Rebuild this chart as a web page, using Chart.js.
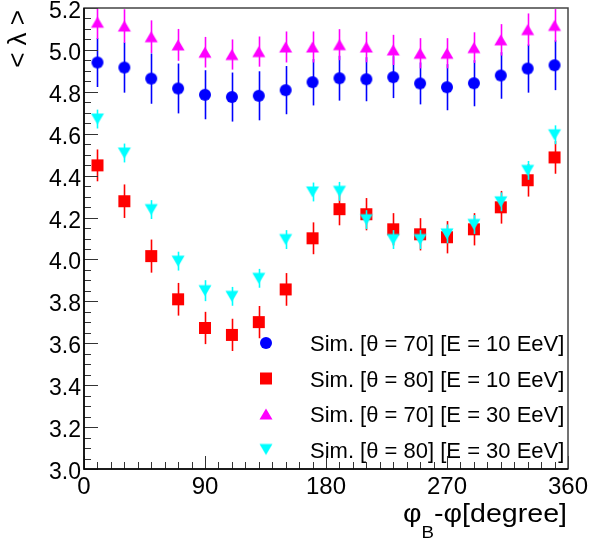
<!DOCTYPE html>
<html>
<head>
<meta charset="utf-8">
<script src="https://cdn.jsdelivr.net/npm/chart.js@4"></script>
<style>
  html, body { margin: 0; padding: 0; background: #fff; }
  canvas { display: block; }
</style>
</head>
<body>
<canvas id="myChart" width="590" height="544"></canvas>
<script>
// x = phi_B - phi, bin centres
var phi = [10, 30, 50, 70, 90, 110, 130, 150, 170, 190, 210, 230, 250, 270, 290, 310, 330, 350];

var sim70_10 = [4.940, 4.916, 4.863, 4.816, 4.786, 4.775, 4.781, 4.808, 4.846, 4.865, 4.860, 4.870, 4.840, 4.822, 4.841, 4.878, 4.911, 4.927];
var err70_10 = [0.117, 0.120, 0.120, 0.119, 0.117, 0.117, 0.117, 0.115, 0.111, 0.107, 0.105, 0.100, 0.100, 0.110, 0.110, 0.111, 0.115, 0.119];

var sim80_10 = [4.449, 4.278, 4.016, 3.810, 3.673, 3.640, 3.701, 3.857, 4.101, 4.240, 4.216, 4.144, 4.120, 4.106, 4.144, 4.249, 4.378, 4.487];
var err80_10 = [0.076, 0.080, 0.079, 0.078, 0.077, 0.077, 0.077, 0.078, 0.076, 0.077, 0.077, 0.077, 0.077, 0.077, 0.077, 0.078, 0.078, 0.078];

var sim70_30 = [5.132, 5.114, 5.063, 5.024, 4.989, 4.978, 4.992, 5.014, 5.014, 5.025, 5.014, 5.000, 4.984, 4.984, 5.011, 5.048, 5.097, 5.117];
var err70_30 = [0.080, 0.080, 0.078, 0.076, 0.073, 0.072, 0.072, 0.074, 0.074, 0.074, 0.073, 0.072, 0.072, 0.072, 0.073, 0.075, 0.077, 0.078];

var sim80_30 = [4.670, 4.508, 4.238, 3.992, 3.851, 3.824, 3.910, 4.095, 4.322, 4.325, 4.190, 4.095, 4.095, 4.122, 4.167, 4.275, 4.425, 4.595];
var err80_30 = [0.045, 0.045, 0.045, 0.045, 0.050, 0.045, 0.045, 0.045, 0.045, 0.045, 0.045, 0.045, 0.045, 0.045, 0.045, 0.045, 0.045, 0.045];

var labels = ["Sim. [\u03b8 = 70] [E = 10 EeV]", "Sim. [\u03b8 = 80] [E = 10 EeV]",
              "Sim. [\u03b8 = 70] [E = 30 EeV]", "Sim. [\u03b8 = 80] [E = 30 EeV]"];

var FONT = "'Liberation Sans', Arial, sans-serif";

// marker images, drawn centred on the canvas
function marker(shape, color) {
  var c = document.createElement("canvas");
  c.width = 16; c.height = 16;
  var g = c.getContext("2d");
  g.fillStyle = color;
  g.beginPath();
  if (shape == "circle") {
    g.arc(8, 8, 6, 0, Math.PI * 2);
  } else if (shape == "square") {
    g.rect(2, 2, 12, 12);
  } else if (shape == "up") {
    g.moveTo(8, 2.5); g.lineTo(14.5, 13.5); g.lineTo(1.5, 13.5);
  } else {
    g.moveTo(1.5, 2.5); g.lineTo(14.5, 2.5); g.lineTo(8, 13.5);
  }
  g.closePath();
  g.fill();
  return c;
}

function pts(ys, es) {
  return phi.map(function (x, i) { return { x: x, y: ys[i], e: es[i] }; });
}

var series = [
  { label: labels[0], data: pts(sim70_10, err70_10), color: "#0000ff", img: marker("circle", "#0000ff"), order: 3 },
  { label: labels[1], data: pts(sim80_10, err80_10), color: "#ff0000", img: marker("square", "#ff0000"), order: 2 },
  { label: labels[2], data: pts(sim70_30, err70_30), color: "#ff00ff", img: marker("up", "#ff00ff"), order: 1 },
  { label: labels[3], data: pts(sim80_30, err80_30), color: "#00ffff", img: marker("down", "#00ffff"), order: 0 }
];

// vertical error bars, drawn just before each dataset's markers
var errorBars = {
  id: "errorBars",
  beforeDatasetDraw: function (chart, args) {
    var ds = chart.data.datasets[args.index];
    var xs = chart.scales.x, ys = chart.scales.y, a = chart.chartArea;
    var ctx = chart.ctx;
    ctx.save();
    ctx.beginPath();
    ctx.rect(a.left, a.top, a.right - a.left, a.bottom - a.top);
    ctx.clip();
    ctx.strokeStyle = ds.errColor;
    ctx.lineWidth = 1.6;
    ds.data.forEach(function (p) {
      var px = Math.round(xs.getPixelForValue(p.x)) + 0.5;
      ctx.beginPath();
      ctx.moveTo(px, ys.getPixelForValue(p.y + p.e));
      ctx.lineTo(px, ys.getPixelForValue(p.y - p.e));
      ctx.stroke();
    });
    ctx.restore();
  }
};

// text squeezed/stretched horizontally
function wideText(ctx, txt, x, y, sx) {
  ctx.save();
  ctx.translate(x, y);
  ctx.scale(sx, 1);
  ctx.fillText(txt, 0, 0);
  ctx.restore();
}

// ROOT style frame, inner ticks, tick labels, legend and axis titles
var frame = {
  id: "frame",
  afterDraw: function (chart) {
    var ctx = chart.ctx, a = chart.chartArea;
    var xs = chart.scales.x, ys = chart.scales.y;
    ctx.save();

    // ticks
    ctx.strokeStyle = "#333";
    ctx.lineWidth = 1;
    var v, p, len;
    for (v = 3.0; v <= 5.2001; v += 0.05) {
      p = Math.round(ys.getPixelForValue(v)) + 0.5;
      len = (Math.abs(v * 5 - Math.round(v * 5)) < 0.01) ? 14 : 7;
      ctx.beginPath(); ctx.moveTo(a.left, p); ctx.lineTo(a.left + len, p); ctx.stroke();
    }
    for (v = 0; v <= 360; v += 10) {
      p = Math.round(xs.getPixelForValue(v)) + 0.5;
      len = (v % 90 == 0) ? 13 : 7;
      ctx.beginPath(); ctx.moveTo(p, a.bottom); ctx.lineTo(p, a.bottom - len); ctx.stroke();
    }

    // frame
    ctx.strokeStyle = "#444";
    ctx.lineWidth = 1.5;
    ctx.strokeRect(a.left, a.top, a.right - a.left, a.bottom - a.top);
    ctx.strokeStyle = "#000";
    ctx.beginPath();
    ctx.moveTo(a.left, a.top); ctx.lineTo(a.left, a.bottom); ctx.lineTo(a.right, a.bottom);
    ctx.stroke();

    // tick labels from the library's own ticks
    ctx.fillStyle = "#000";
    ctx.textBaseline = "alphabetic";
    ctx.font = "23px " + FONT;
    ctx.textAlign = "right";
    ys.ticks.forEach(function (t) {
      ctx.fillText(t.value.toFixed(1), a.left - 3, ys.getPixelForValue(t.value) + 10);
    });
    ctx.font = "24px " + FONT;
    ctx.textAlign = "center";
    xs.ticks.forEach(function (t) {
      ctx.fillText(String(t.value), xs.getPixelForValue(t.value), 494);
    });

    // legend
    ctx.font = "22px " + FONT;
    ctx.textAlign = "left";
    chart.data.datasets.forEach(function (ds, i) {
      var cy = 343 + i * 35.5;
      ctx.drawImage(ds.pointStyle, 266 - 8, cy - 8);
      ctx.fillText(ds.label, 310, cy + 8);
    });

    // x title: phi_B - phi[degree]
    var sx = 1.1;
    ctx.font = "26px " + FONT;
    var w1 = ctx.measureText("\u03c6").width * sx;
    var w3 = ctx.measureText("-\u03c6[degree]").width * sx;
    ctx.font = "17px " + FONT;
    var w2 = ctx.measureText("B").width * sx;
    var x0 = 567 - (w1 + w2 + w3);
    ctx.font = "26px " + FONT;
    wideText(ctx, "\u03c6", x0, 522, sx);
    wideText(ctx, "-\u03c6[degree]", x0 + w1 + w2, 522, sx);
    ctx.font = "17px " + FONT;
    wideText(ctx, "B", x0 + w1, 538, sx);

    // y title: < lambda >
    ctx.translate(26, 10);
    ctx.rotate(-Math.PI / 2);
    ctx.font = "26px " + FONT;
    ctx.textAlign = "right";
    ctx.fillText("< \u03bb >", 0, 0);

    ctx.restore();
  }
};

var ctx = document.getElementById("myChart");
var myChart = new Chart(ctx, {
  type: "scatter",
  data: {
    datasets: series.map(function (s) {
      return {
        label: s.label,
        data: s.data,
        pointStyle: s.img,
        pointRadius: 7,
        showLine: false,
        order: s.order,
        errColor: s.color
      };
    })
  },
  options: {
    responsive: false,
    animation: false,
    layout: { padding: { top: 8, right: 22, left: 0, bottom: 0 } },
    plugins: { legend: { display: false }, tooltip: { enabled: false } },
    scales: {
      x: {
        type: "linear",
        min: 0, max: 360,
        grid: { display: false },
        border: { display: false },
        ticks: { stepSize: 90, display: false },
        afterFit: function (scale) {
          scale.height = 75;
          scale.paddingLeft = 0;
          scale.paddingRight = 0;
        }
      },
      y: {
        min: 3.0, max: 5.2,
        grid: { display: false },
        border: { display: false },
        ticks: { stepSize: 0.2, display: false },
        afterFit: function (scale) {
          scale.width = 84;
          scale.paddingTop = 0;
          scale.paddingBottom = 0;
        }
      }
    }
  },
  plugins: [errorBars, frame]
});
</script>
</body>
</html>
